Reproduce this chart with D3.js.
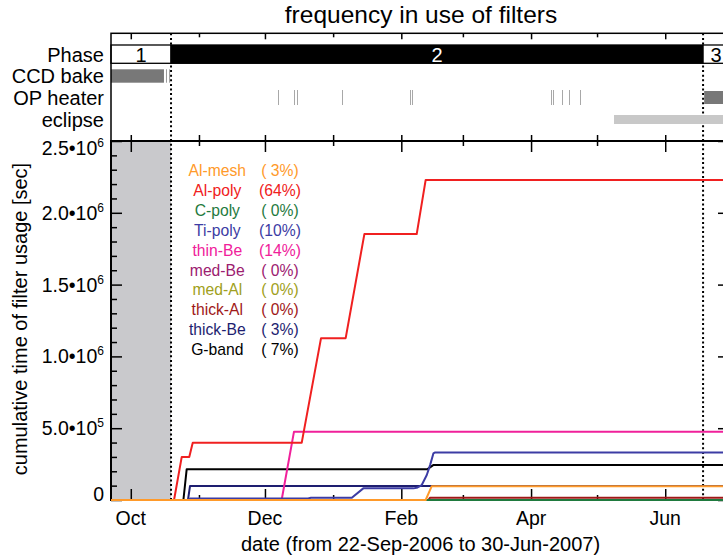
<!DOCTYPE html>
<html><head><meta charset="utf-8">
<script src="https://cdn.jsdelivr.net/npm/d3@7"></script>
<style>
html,body{margin:0;padding:0;background:#fff;}
svg text{font-family:"Liberation Sans",Arial,Helvetica,sans-serif;}
</style></head>
<body><svg id="c" width="723" height="560"></svg>
<script>
// ---------------- data ----------------
const chartTitle = "frequency in use of filters";
const xTitle = "date (from 22-Sep-2006 to 30-Jun-2007)";
const yTitle = "cumulative time of filter usage [sec]";
const dateStart = "2006-09-22T00", dateEnd = "2007-06-30T00";

const seriesNames = ["Al-mesh","Al-poly","C-poly","Ti-poly","thin-Be","med-Be","med-Al","thick-Al","thick-Be","G-band"];
const seriesPct   = ["( 3%)","(64%)","( 0%)","(10%)","(14%)","( 0%)","( 0%)","( 0%)","( 3%)","( 7%)"];
const seriesColors = ["#ff9a2a","#f02020","#1f7a3e","#3c3ca4","#f0209a","#9c2070","#a0a020","#a01818","#1e1e70","#000000"];

const alMesh = [["2006-09-22T00",0],["2007-02-12T02",0],["2007-02-14T19",9.5e4],["2007-06-30T00",9.5e4]];
const alPoly = [["2006-09-22T00",0],["2006-10-20T16",0],["2006-10-24T04",3.0e5],["2006-10-27T14",3.0e5],
  ["2006-10-29T04",3.98e5],["2006-12-17T17",3.98e5],["2006-12-26T12",1.127e6],["2007-01-06T17",1.127e6],
  ["2007-01-15T05",1.852e6],["2007-02-08T00",1.852e6],["2007-02-12T02",2.229e6],["2007-06-30T00",2.229e6]];
const cPoly = [["2006-09-22T00",0],["2007-06-30T00",0]];
const tiPoly = [["2006-09-22T00",0],["2006-10-27T00",0],["2006-10-27T22",1.1e4],["2006-12-20T14",1.1e4],
  ["2006-12-21T22",1.6e4],["2007-01-09T12",1.6e4],["2007-01-14T17",8.1e4],["2007-02-06T12",8.1e4],
  ["2007-02-08T00",8.5e4],["2007-02-10T07",1.04e5],["2007-02-12T14",1.74e5],["2007-02-14T02",2.43e5],
  ["2007-02-15T14",3.24e5],["2007-02-16T10",3.31e5],["2007-06-30T00",3.31e5]];
const thinBe = [["2006-09-22T00",0],["2006-12-08T14",0],["2006-12-14T05",4.76e5],["2007-06-30T00",4.76e5]];
const medBe = [["2006-09-22T00",0],["2007-06-30T00",0]];
const medAl = [["2006-09-22T00",0],["2007-06-30T00",0]];
const thickAl = [["2006-09-22T00",0],["2007-02-13T07",0],["2007-02-14T00",1.5e4],["2007-06-30T00",1.5e4]];
const thickBe = [["2006-09-22T00",0],["2006-10-27T00",0],["2006-10-27T22",9.7e4],["2007-06-30T00",9.7e4]];
const gBand = [["2006-09-22T00",0],["2006-10-24T22",0],["2006-10-26T10",2.15e5],["2007-02-12T22",2.15e5],
  ["2007-02-15T12",2.43e5],["2007-06-30T00",2.43e5]];
const seriesData = [alMesh, alPoly, cPoly, tiPoly, thinBe, medBe, medAl, thickAl, thickBe, gBand];

const phaseNames = ["1","2","3"];
const phaseStarts = ["2006-09-22T00","2006-10-19T07","2007-06-18T05"];
const phaseEnds   = ["2006-10-19T07","2007-06-18T05","2007-06-30T00"];
const ccdBake = [["2006-09-22T00","2006-10-16T02"],["2006-10-17T00","2006-10-17T08"],["2006-10-18T10","2006-10-18T16"]];
const opHeaterEvents = ["2006-12-06T19","2006-12-14T08","2006-12-15T17","2007-01-04T22","2007-02-05T00",
  "2007-02-05T17","2007-04-10T02","2007-04-10T22","2007-04-15T05","2007-04-18T02","2007-04-23T07"];
const opHeaterOn = [["2007-06-18T17","2007-06-30T00"]];
const eclipse = [["2007-05-08T17","2007-06-30T00"]];
const statusRows = ["Phase","CCD bake","OP heater","eclipse"];

const yMajor = [0,5e5,1e6,1.5e6,2e6,2.5e6];
const yMajorMant = ["0","5.0•10","1.0•10","1.5•10","2.0•10","2.5•10"];
const yMajorExp  = ["","5","6","6","6","6"];
const yMax = 2.5e6, yMinorStep = 1e5;

// ---------------- drawing ----------------
const parse = d3.timeParse("%Y-%m-%dT%H");
const svg = d3.select("#c");
const L = 111, R = 729, T = 141, B = 500, PT = 33.3;
const x = d3.scaleTime().domain([parse(dateStart), parse(dateEnd)]).range([L, R]);
const y = d3.scaleLinear().domain([0, yMax]).range([B, T]);
const FONT = 20;

const months = d3.timeMonth.range(d3.timeMonth.ceil(parse(dateStart)), parse(dateEnd));
const majorMonths = months.filter((d,i)=> i%2===0);
const minorMonths = months.filter((d,i)=> i%2===1);

// title
svg.append("text").attr("x",421).attr("y",23).attr("text-anchor","middle")
  .attr("font-size",24.5).text(chartTitle);

// shaded phase-1 background in main plot
svg.append("rect").attr("x",x(parse(phaseStarts[0]))).attr("y",T)
  .attr("width",x(parse(phaseEnds[0]))-x(parse(phaseStarts[0]))).attr("height",B-T).attr("fill","#c9c9cc");

// dotted phase boundaries
[phaseEnds[0], phaseEnds[1]].forEach(d=>{
  svg.append("line").attr("x1",x(parse(d))).attr("x2",x(parse(d))).attr("y1",PT).attr("y2",B)
    .attr("stroke","#000").attr("stroke-width",2).attr("stroke-dasharray","2,2.6");
});

// status panel
const rowY = [[45,63.3],[69.3,82.7],[90,105],[115,124]];
phaseNames.forEach((p,i)=>{
  const x0 = x(parse(phaseStarts[i])), x1 = x(parse(phaseEnds[i]));
  svg.append("rect").attr("x",x0).attr("y",rowY[0][0]).attr("width",x1-x0).attr("height",rowY[0][1]-rowY[0][0])
    .attr("fill", i===1 ? "#000" : "#fff").attr("stroke","#000").attr("stroke-width",1.3);
  svg.append("text").attr("x",(x0+x1)/2).attr("y",62).attr("text-anchor","middle")
    .attr("font-size",FONT).attr("fill", i===1 ? "#fff" : "#000").text(p);
});
ccdBake.forEach((d,i)=>{
  const x0 = x(parse(d[0])), x1 = x(parse(d[1]));
  svg.append("rect").attr("x",x0).attr("y",rowY[1][0]).attr("width",Math.max(1,x1-x0))
    .attr("height",rowY[1][1]-rowY[1][0]).attr("fill", i===0 ? "#787878" : "#9a9a9a");
});
opHeaterEvents.forEach(d=>{
  const xx = Math.round(x(parse(d)))+0.5;
  svg.append("line").attr("x1",xx).attr("x2",xx).attr("y1",rowY[2][0]).attr("y2",rowY[2][1])
    .attr("stroke","#a8a8a8").attr("stroke-width",1);
});
opHeaterOn.forEach(d=>{
  const x0 = x(parse(d[0])), x1 = x(parse(d[1]));
  svg.append("rect").attr("x",x0).attr("y",91).attr("width",x1-x0).attr("height",13).attr("fill","#787878");
});
eclipse.forEach(d=>{
  const x0 = x(parse(d[0])), x1 = x(parse(d[1]));
  svg.append("rect").attr("x",x0).attr("y",rowY[3][0]).attr("width",x1-x0).attr("height",rowY[3][1]-rowY[3][0]).attr("fill","#c8c8c8");
});
const rowBase = [61.7,83.3,105,126.7];
statusRows.forEach((r,i)=>{
  svg.append("text").attr("x",104).attr("y",rowBase[i]).attr("text-anchor","end").attr("font-size",FONT).text(r);
});

// axes helper
function styleAxis(g){
  g.select(".domain").remove();
  g.selectAll(".tick line").attr("stroke","#000").attr("stroke-width",1.5);
  g.selectAll(".tick text").remove();
}
// main plot: bottom
svg.append("g").attr("transform",`translate(0,${B})`).call(d3.axisBottom(x).tickValues(majorMonths).tickSize(-11)).call(styleAxis);
svg.append("g").attr("transform",`translate(0,${B})`).call(d3.axisBottom(x).tickValues(minorMonths).tickSize(-5)).call(styleAxis);
// main plot: top
svg.append("g").attr("transform",`translate(0,${T})`).call(d3.axisTop(x).tickValues(majorMonths).tickSize(-11)).call(styleAxis);
svg.append("g").attr("transform",`translate(0,${T})`).call(d3.axisTop(x).tickValues(minorMonths).tickSize(-5)).call(styleAxis);
// status panel ticks
svg.append("g").attr("transform",`translate(0,${T})`).call(d3.axisBottom(x).tickValues(months).tickSize(-6)).call(styleAxis);
svg.append("g").attr("transform",`translate(0,${PT})`).call(d3.axisTop(x).tickValues(majorMonths).tickSize(-6)).call(styleAxis);
svg.append("g").attr("transform",`translate(0,${PT})`).call(d3.axisTop(x).tickValues(minorMonths).tickSize(-4)).call(styleAxis);
// y axes
const yMinor = d3.range(0, yMax+1, yMinorStep).filter(v=>!yMajor.includes(v));
svg.append("g").attr("transform",`translate(${L},0)`).call(d3.axisLeft(y).tickValues(yMajor).tickSize(-11)).call(styleAxis);
svg.append("g").attr("transform",`translate(${L},0)`).call(d3.axisLeft(y).tickValues(yMinor).tickSize(-6)).call(styleAxis);
svg.append("g").attr("transform",`translate(${R},0)`).call(d3.axisRight(y).tickValues(yMajor).tickSize(-11)).call(styleAxis);
svg.append("g").attr("transform",`translate(${R},0)`).call(d3.axisRight(y).tickValues(yMinor).tickSize(-6)).call(styleAxis);

// frames
svg.append("rect").attr("x",L).attr("y",PT).attr("width",R-L).attr("height",T-PT)
  .attr("fill","none").attr("stroke","#000").attr("stroke-width",1.5);
svg.append("rect").attr("x",L).attr("y",T).attr("width",R-L).attr("height",B-T)
  .attr("fill","none").attr("stroke","#000").attr("stroke-width",2);

// series lines (drawn in reverse order so Al-mesh ends on top), over the frame
const line = d3.line().x(d=>x(parse(d[0]))).y(d=>y(d[1]));
for (let i = seriesData.length-1; i>=0; i--) {
  svg.append("path").attr("d", line(seriesData[i])).attr("fill","none")
    .attr("stroke", seriesColors[i]).attr("stroke-width",2).attr("stroke-linejoin","round");
}

// x tick labels
majorMonths.forEach(m=>{
  svg.append("text").attr("x",x(m)).attr("y",525).attr("text-anchor","middle").attr("font-size",19.5)
    .text(d3.timeFormat("%b")(m));
});
svg.append("text").attr("x",420.5).attr("y",551).attr("text-anchor","middle").attr("font-size",FONT).text(xTitle);

// y tick labels
yMajor.forEach((v,i)=>{
  const cy = Math.min(Math.max(y(v), 148), 494);
  const t = svg.append("text").attr("x",104).attr("y",cy+7).attr("text-anchor","end").attr("font-size",19.5);
  t.append("tspan").text(yMajorMant[i]);
  if (yMajorExp[i]) t.append("tspan").attr("font-size",12).attr("dy",-8).text(yMajorExp[i]);
});
svg.append("text").attr("transform","translate(27,319) rotate(-90)").attr("text-anchor","middle")
  .attr("font-size",FONT).text(yTitle);

// legend
seriesNames.forEach((n,i)=>{
  const by = 176 + i*19.9;
  svg.append("text").attr("x",217.3).attr("y",by).attr("text-anchor","middle").attr("font-size",15.7)
    .attr("fill",seriesColors[i]).text(n);
  svg.append("text").attr("x",280).attr("y",by).attr("text-anchor","middle").attr("font-size",15.7)
    .attr("fill",seriesColors[i]).style("white-space","pre").text(seriesPct[i]);
});
</script></body></html>
